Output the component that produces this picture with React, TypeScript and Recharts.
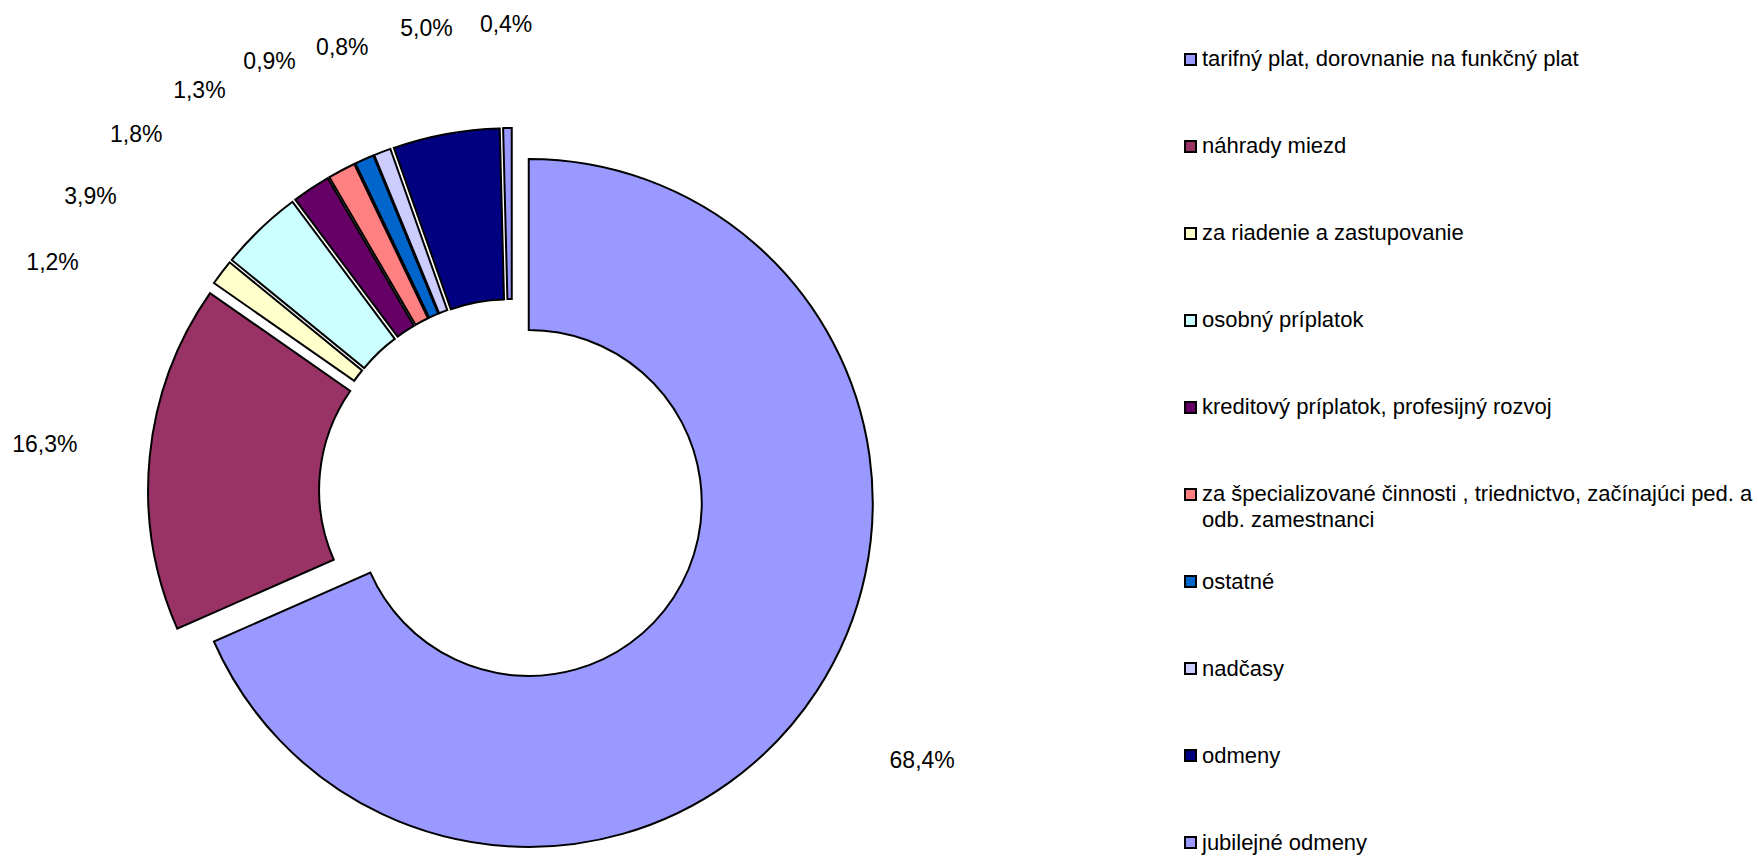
import { PieChart, Pie, Cell, Sector, Legend } from 'recharts'

const categories = [
  'tarifný plat, dorovnanie na funkčný plat',
  'náhrady miezd',
  'za riadenie a zastupovanie',
  'osobný príplatok',
  'kreditový príplatok, profesijný rozvoj',
  'za špecializované činnosti , triednictvo, začínajúci ped. a odb. zamestnanci',
  'ostatné',
  'nadčasy',
  'odmeny',
  'jubilejné odmeny'
]

const shares = [68.4, 16.3, 1.2, 3.9, 1.8, 1.3, 0.9, 0.8, 5.0, 0.4]

const colors = [
  '#9999FF', '#993366', '#FFFFCC', '#CCFFFF', '#660066',
  '#FF8080', '#0066CC', '#CCCCFF', '#000080', '#9999FF'
]

const data = categories.map((name, i) => ({ name, value: shares[i] }))

const FONT = '"Liberation Sans", Arial, sans-serif'
const LABEL_SIZE = 23
const RAD = Math.PI / 180
const EXPLODE = 20

// middle of every slice as a compass angle (clockwise from 12 o'clock)
const total = shares.reduce((a, b) => a + b, 0)
const midCompass: number[] = []
let acc = 0
shares.forEach(v => {
  midCompass.push(((acc + v / 2) / total) * 360)
  acc += v
})

// the small slices crowd together, so their labels get pushed apart
const labelCompass = [...midCompass]
for (let i = shares.length - 2; i >= 1; i--) {
  labelCompass[i] = Math.min(midCompass[i], labelCompass[i + 1] - 8.5)
}

const fmt = (v: number) => v.toFixed(1).replace('.', ',') + '%'

function ExplodedSector(props: any) {
  const { cx, cy, midAngle } = props
  const dx = EXPLODE * Math.cos(-midAngle * RAD)
  const dy = EXPLODE * Math.sin(-midAngle * RAD)
  return <Sector {...props} cx={cx + dx} cy={cy + dy} />
}

function renderLabel(props: any) {
  const { cx, cy, index } = props
  const text = fmt(shares[index])
  const a = labelCompass[index]
  const hw = (text.length * LABEL_SIZE * 0.57) / 2
  const hh = LABEL_SIZE / 2
  // anchor just outside the ring, then step out by the label box
  const r = 456 + hw * Math.abs(Math.sin(a * RAD)) + hh * Math.abs(Math.cos(a * RAD)) +
    2.8 * (midCompass[index] - a)
  let x = cx + r * Math.sin(a * RAD)
  const y = cy - r * Math.cos(a * RAD)
  x = Math.max(x, 12 + hw)
  return (
    <text
      x={x}
      y={y}
      textAnchor="middle"
      dominantBaseline="central"
      fontFamily={FONT}
      fontSize={LABEL_SIZE}
      fill="#000"
    >
      {text}
    </text>
  )
}

function SideLegend() {
  return (
    <div style={{ fontFamily: FONT, fontSize: 22, lineHeight: '26px', color: '#000' }}>
      {categories.map((name, i) => (
        <div key={name} style={{ display: 'flex', alignItems: 'flex-start', height: 87.1 }}>
          <span
            style={{
              width: 13,
              height: 13,
              marginTop: 6.5,
              marginRight: 5,
              flex: 'none',
              boxSizing: 'border-box',
              border: '2px solid #000',
              background: colors[i]
            }}
          />
          <span style={{ width: 560 }}>{name}</span>
        </div>
      ))}
    </div>
  )
}

export default function App() {
  return (
    <div style={{ position: 'relative', width: 1758, height: 858, background: '#fff' }}>
      <style>{'body{margin:0}'}</style>
      <PieChart width={1758} height={858} margin={{ top: 0, right: 0, bottom: 0, left: 0 }}>
        <Pie
          data={data}
          dataKey="value"
          cx={512}
          cy={492}
          innerRadius={173}
          outerRadius={344}
          startAngle={90}
          endAngle={-270}
          stroke="#000"
          strokeWidth={2}
          shape={ExplodedSector}
          label={renderLabel}
          labelLine={false}
          isAnimationActive={false}
        >
          {data.map((d, i) => (
            <Cell key={d.name} fill={colors[i]} />
          ))}
        </Pie>
        <Legend
          content={() => <SideLegend />}
          wrapperStyle={{ position: 'absolute', left: 1184, top: 46, width: 580 }}
        />
      </PieChart>
    </div>
  )
}
